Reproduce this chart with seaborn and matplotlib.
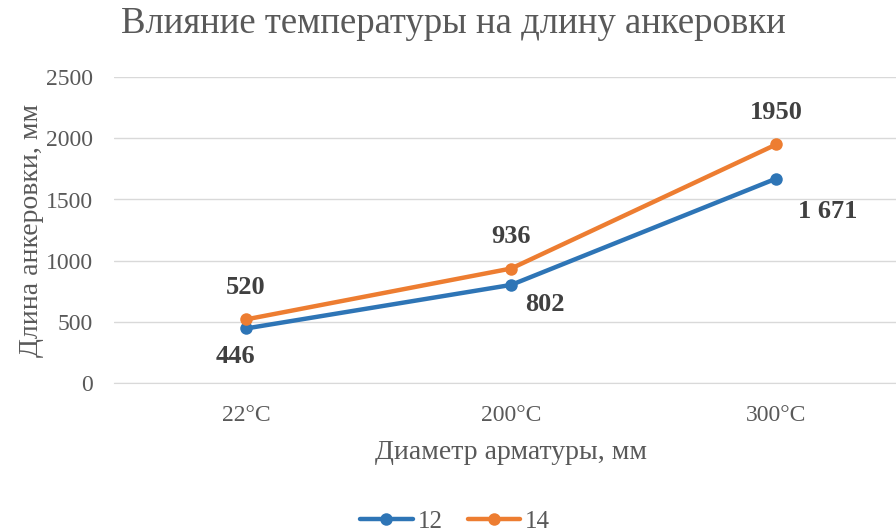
import seaborn as sns
import matplotlib.pyplot as plt
import pandas as pd

# Data
temps = ["22°C", "200°C", "300°C"]
d12 = [446, 802, 1671]
d14 = [520, 936, 1950]
labels12 = ["446", "802", "1 671"]
labels14 = ["520", "936", "1950"]

df = pd.DataFrame({
    "Температура": temps * 2,
    "Длина": d12 + d14,
    "Диаметр": ["12"] * 3 + ["14"] * 3,
})

sns.set_style("white")
plt.rcParams["font.family"] = ["Liberation Serif", "DejaVu Serif"]
grey = "#595959"
colors = {"12": "#2E75B6", "14": "#ED7D31"}

fig = plt.figure(figsize=(8.96, 5.32), dpi=100)
ax = fig.add_axes([0.1267, 0.280, 0.8876, 0.575])

sns.lineplot(data=df, x="Температура", y="Длина", hue="Диаметр", palette=colors,
             marker="o", markersize=9, markeredgewidth=0, linewidth=3.2,
             sort=False, ax=ax)

ax.set_xlim(-0.5, 2.5)
ax.set_ylim(0, 2500)
ax.set_yticks(range(0, 2501, 500))
ax.grid(axis="y", color="#d9d9d9", linewidth=1)
ax.set_axisbelow(True)
for s in ax.spines.values():
    s.set_visible(False)
ax.spines["bottom"].set_visible(True)
ax.spines["bottom"].set_color("#d9d9d9")
ax.tick_params(axis="y", length=0, labelsize=17, colors=grey, pad=15)
ax.tick_params(axis="x", length=0, labelsize=17, colors=grey, pad=16)

ax.set_xlabel("Диаметр арматуры, мм", fontsize=20, color=grey, labelpad=10)
ax.set_ylabel("Длина анкеровки, мм", fontsize=20, color=grey, labelpad=1)
fig.text(0.5056, 0.955, "Влияние температуры на длину анкеровки", ha="center",
         va="center", fontsize=26.5, color=grey)

# data labels
offs12 = [(-8, -20), (24, -14), (37, -24)]
offs14 = [(0, 23), (0, 23), (0, 23)]
for i in range(3):
    ax.annotate(labels12[i], (i, d12[i]), xytext=offs12[i], textcoords="offset points",
                ha="center", va="center", fontsize=19, fontweight="bold", color="#404040")
    ax.annotate(labels14[i], (i, d14[i]), xytext=offs14[i], textcoords="offset points",
                ha="center", va="center", fontsize=19, fontweight="bold", color="#404040")

handles, lbls = ax.get_legend_handles_labels()
ax.get_legend().remove()
leg = fig.legend(handles, lbls, loc="center", bbox_to_anchor=(0.508, 0.02),
                 ncol=2, frameon=False, fontsize=18, handlelength=2.1, columnspacing=1.0,
                 handletextpad=0.2)
for t in leg.get_texts():
    t.set_color(grey)

plt.savefig("out.png", dpi=100)
